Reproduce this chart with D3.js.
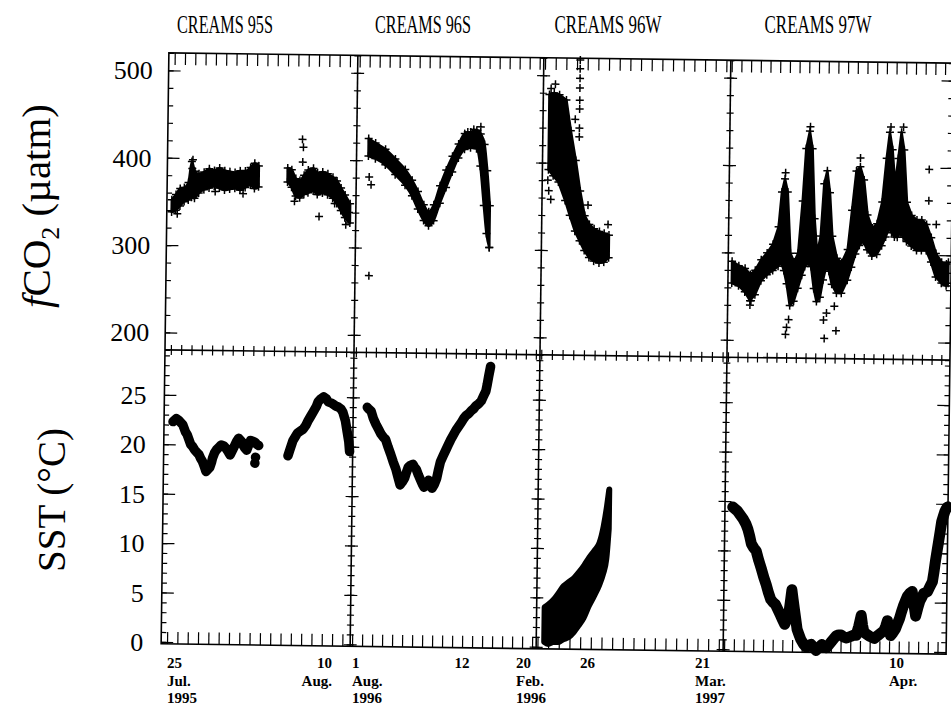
<!DOCTYPE html>
<html>
<head>
<meta charset="utf-8">
<script src="https://cdn.jsdelivr.net/npm/d3@7"></script>
<style>
  body { margin: 0; background: #fff; }
  svg { display: block; }
</style>
</head>
<body>
<svg id="chart" width="951" height="709"></svg>
<script>
// Cruise panels, left to right
const cruises = ["CREAMS 95S", "CREAMS 96S", "CREAMS 96W", "CREAMS 97W"];
// Reference date of each panel (data times are days after this date)
const refDates = ["1995-07-25", "1996-08-01", "1996-02-20", "1997-03-21"];
// Time window shown in each panel
const domainStart = ["1995-07-24T10:20Z", "1996-07-31T19:26Z", "1996-02-21T21:07Z", "1997-03-23T21:36Z"];
const domainEnd = ["1995-08-11T18:14Z", "1996-08-19T09:50Z", "1996-03-10T09:50Z", "1997-04-15T21:21Z"];
// Date tick labels per panel
const dateTicks = [
  [["1995-07-25", ["25", "Jul.", "1995"]], ["1995-08-10", ["10", "Aug."]]],
  [["1996-08-01", ["1", "Aug.", "1996"]], ["1996-08-12", ["12"]]],
  [["1996-02-20", ["20", "Feb.", "1996"]], ["1996-02-26", ["26"]]],
  [["1997-03-21", ["21", "Mar.", "1997"]], ["1997-04-10", ["10", "Apr."]]]
];
// Value axes
const fco2Domain = [180, 520];
const fco2Ticks = [200, 300, 400, 500];
const sstDomain = [-0.2, 29.55];
const sstTicks = [0, 5, 10, 15, 20, 25];

// fCO2 (uatm) spread of the underway readings: [days after reference date, lowest, highest]
const fco2_95S = [[-0.1,338,352],[0.3,340,358],[0.7,345,365],[1.1,350,366],[1.5,352,372],[1.8,355,396],[2.1,354,385],[2.5,360,382],[3.0,364,384],[3.5,366,388],[4.0,368,386],[4.5,366,389],[5.0,364,386],[5.5,365,385],[6.0,366,384],[6.5,364,386],[7.0,367,386],[7.5,370,390],[7.9,366,395],[8.3,368,392],[8.4,null,null],[11.1,374,390],[11.5,368,388],[11.9,358,378],[12.3,356,376],[12.7,360,382],[13.1,362,388],[13.6,364,390],[14.0,360,385],[14.5,362,386],[15.0,360,384],[15.5,356,380],[15.9,350,376],[16.3,342,368],[16.7,334,360],[17.2,328,350]];
const fco2_96S = [[1.0,405,425],[1.7,402,420],[2.7,395,413],[3.7,384,402],[4.7,372,390],[5.4,360,378],[6.0,345,365],[6.6,332,350],[7.1,326,342],[7.6,332,350],[8.2,352,372],[8.8,370,390],[9.4,388,406],[10.0,404,420],[10.6,414,432],[11.2,416,434],[11.8,415,436],[12.2,395,432],[12.6,350,420],[12.9,318,390],[13.2,302,350]];
const fco2_96W = [[2.45,392,478],[2.9,385,480],[3.4,378,478],[4.05,357,472],[4.5,340,437],[5.0,322,403],[5.45,311,368],[5.9,300,340],[6.35,292,330],[6.8,288,325],[7.3,286,322],[7.75,287,320],[8.2,292,318]];
const fco2_97W = [[3.3,265,290],[4.0,262,285],[4.65,255,282],[5.2,245,275],[5.7,252,280],[6.3,268,292],[6.9,275,300],[7.5,280,310],[8.05,285,330],[8.35,290,370],[8.65,280,385],[8.95,265,370],[9.3,240,300],[9.7,245,290],[10.1,260,300],[10.5,275,360],[10.8,285,420],[11.15,290,440],[11.45,285,420],[11.75,260,340],[12.05,245,300],[12.4,250,320],[12.7,270,380],[13.0,285,395],[13.3,280,370],[13.6,265,320],[14.1,255,295],[14.6,255,290],[15.2,270,305],[15.6,285,350],[16.0,300,395],[16.4,310,400],[16.8,315,385],[17.2,305,345],[17.7,298,330],[18.2,300,335],[18.7,310,360],[19.1,320,410],[19.4,330,440],[19.7,325,420],[20.0,320,380],[20.3,320,410],[20.6,325,440],[20.9,320,420],[21.25,315,360],[21.75,310,345],[22.3,305,340],[22.8,305,340],[23.3,305,335],[23.8,292,320],[24.3,275,302],[24.9,268,292],[25.4,265,290],[25.6,268,292]];
// Isolated fCO2 readings away from the main cloud
const fco2_95S_extra = [[0.45,336],[1.9,398],[1.85,388],[4.1,362],[6.8,360],[12.5,423],[12.6,414],[12.55,397],[14.2,335],[11.8,352],[15.7,350],[16.8,326],[17.1,340]];
const fco2_96S_extra = [[1.1,381],[1.3,372],[12.2,440],[11.5,437],[10.9,434],[13.2,302],[1.2,268]];
const fco2_96W_extra = [[5.3,518],[5.3,508],[5.3,497],[5.3,486],[5.3,472],[5.3,462],[5.3,440],[5.3,430],[2.6,485],[3.0,490],[2.4,380],[2.5,368],[2.7,358],[4.9,450],[6.2,352],[8.1,330]];
const fco2_97W_extra = [[5.3,245],[5.2,240],[8.9,207],[9.2,224],[9.0,215],[12.9,203],[12.8,224],[13.1,232],[14.1,212],[13.9,240],[23.5,398],[23.5,362],[8.7,392],[11.2,445],[16.4,410],[19.5,446],[20.8,446],[24.3,335]];

// Sea surface temperature (deg C) along the track: [days after reference date, value]; null marks a gap
const sst_95S = [[0.30,22.3],[0.62,22.6],[0.89,22.4],[1.25,22.0],[1.51,21.3],[1.69,21.0],[1.87,20.5],[2.05,20.0],[2.23,19.8],[2.41,19.5],[2.67,19.2],[2.85,19.0],[3.03,18.6],[3.21,18.3],[3.39,17.8],[3.56,17.3],[3.74,17.5],[3.92,17.7],[4.10,18.3],[4.19,18.7],[4.37,19.2],[4.54,19.5],[4.81,19.8],[4.99,20.0],[5.26,19.9],[5.44,19.7],[5.70,19.3],[5.88,19.0],[6.15,19.6],[6.33,20.0],[6.50,20.4],[6.68,20.7],[6.95,20.4],[7.13,20.0],[7.31,19.7],[7.48,19.5],[7.66,20.0],[7.84,20.5],[8.11,20.4],[8.29,20.3],[8.46,20.1],[8.64,20.0],[8.73,null],[11.49,19.0],[11.67,19.6],[11.94,20.5],[12.21,21.0],[12.38,21.3],[12.65,21.5],[12.92,21.7],[13.19,22.1],[13.36,22.5],[13.63,23.0],[13.90,23.5],[14.17,24.0],[14.35,24.5],[14.61,24.8],[14.88,25.0],[15.15,24.8],[15.33,24.5],[15.59,24.4],[15.77,24.3],[16.04,24.1],[16.31,24.0],[16.57,23.8],[16.75,23.5],[17.02,22.6],[17.20,21.5],[17.37,20.5],[17.46,19.5]];
const sst_96S = [[1.21,24.0],[1.39,23.8],[1.61,23.6],[1.83,22.9],[2.10,22.3],[2.37,21.8],[2.63,21.3],[2.86,21.0],[3.08,20.8],[3.35,20.0],[3.61,19.3],[3.88,18.5],[4.15,17.8],[4.37,17.0],[4.59,16.2],[4.81,16.5],[5.04,16.9],[5.22,17.5],[5.39,18.0],[5.62,18.2],[5.84,18.3],[6.02,18.0],[6.19,17.8],[6.42,17.2],[6.64,16.7],[6.82,16.3],[6.99,16.0],[7.22,16.4],[7.44,16.7],[7.62,16.2],[7.80,15.9],[8.02,16.3],[8.24,16.9],[8.42,17.8],[8.60,18.6],[8.86,19.2],[9.13,19.8],[9.35,20.3],[9.58,20.8],[9.84,21.3],[10.11,21.8],[10.38,22.2],[10.64,22.6],[10.87,23.0],[11.09,23.3],[11.36,23.5],[11.62,23.8],[11.85,24.0],[12.07,24.3],[12.34,24.5],[12.60,24.8],[12.82,25.3],[13.05,25.8],[13.18,26.5],[13.31,27.3],[13.49,28.3]];
const sst_97W = [[3.70,14.4],[4.19,14.0],[4.49,13.6],[4.79,13.2],[5.08,12.7],[5.28,12.2],[5.48,11.5],[5.67,10.7],[5.92,10.3],[6.17,10.0],[6.46,9.0],[6.76,8.1],[7.00,7.3],[7.25,6.6],[7.49,5.8],[7.74,5.1],[7.99,4.8],[8.23,4.6],[8.48,4.1],[8.73,3.6],[8.97,3.1],[9.22,2.6],[9.41,3.1],[9.61,3.6],[9.76,4.8],[9.91,6.1],[10.05,5.1],[10.20,4.1],[10.35,3.1],[10.50,2.1],[10.69,1.6],[10.89,1.1],[11.19,0.6],[11.48,0.3],[11.73,0.5],[11.97,0.6],[12.22,0.3],[12.47,0.0],[12.76,0.3],[13.06,0.6],[13.30,0.4],[13.55,0.3],[13.80,0.6],[14.04,0.9],[14.29,1.2],[14.53,1.5],[14.78,1.6],[15.03,1.6],[15.32,1.4],[15.62,1.3],[15.86,1.4],[16.11,1.5],[16.35,1.6],[16.60,1.6],[16.85,2.5],[17.09,3.6],[17.24,2.6],[17.39,1.9],[17.68,1.7],[17.98,1.5],[18.22,1.4],[18.47,1.3],[18.72,1.5],[18.96,1.7],[19.21,1.9],[19.46,2.1],[19.65,2.6],[19.80,3.1],[19.95,2.3],[20.14,1.6],[20.39,1.9],[20.64,2.3],[20.83,2.8],[21.03,3.3],[21.23,4.0],[21.42,4.6],[21.62,5.1],[21.82,5.6],[22.07,5.9],[22.31,6.1],[22.51,4.8],[22.70,3.6],[22.90,4.4],[23.10,5.1],[23.30,5.5],[23.49,5.9],[23.69,6.0],[23.89,6.1],[24.13,6.6],[24.38,7.1],[24.53,8.1],[24.67,9.2],[24.82,10.2],[24.97,11.2],[25.12,12.2],[25.26,13.2],[25.41,13.7],[25.56,14.2],[25.71,14.5],[25.86,14.7]];
// Winter 1996 SST spread: [days after reference date, lowest, highest]
const sst_96W = [[2.63,0.5,4.0],[3.0,0.3,4.3],[3.48,0.5,4.8],[3.95,0.5,5.5],[4.41,0.8,6.2],[4.88,1.0,6.6],[5.35,1.5,7.0],[5.82,2.2,7.6],[6.29,3.0,8.3],[6.76,4.2,9.1],[7.23,5.2,9.8],[7.7,6.3,10.6],[8.07,7.5,12.3],[8.35,9.0,14.3],[8.54,12.0,16.0]];
const sst_95S_extra = [[8.29,18.2],[8.35,18.8]];

const fco2Series = [fco2_95S, fco2_96S, fco2_96W, fco2_97W];
const fco2Extra = [fco2_95S_extra, fco2_96S_extra, fco2_96W_extra, fco2_97W_extra];
const sstTracks = [sst_95S, sst_96S, null, sst_97W];
const sstBands = [null, null, sst_96W, null];
const sstExtra = [sst_95S_extra, [], [], []];

// ---- layout ----
const svg = d3.select("#chart");
svg.append("rect").attr("width", 951).attr("height", 709).attr("fill", "#fff");

const edges = [165, 354, 540, 727, 950];
const yTop = 58, yMid = 355, yBot = 649;
const tilt = 0.75, pivot = [558, 352];
const rad = tilt * Math.PI / 180;
const turn = (x, y) => [
  pivot[0] + (x - pivot[0]) * Math.cos(rad) - (y - pivot[1]) * Math.sin(rad),
  pivot[1] + (x - pivot[0]) * Math.sin(rad) + (y - pivot[1]) * Math.cos(rad)
];
const serif = "'Liberation Serif', 'Times New Roman', serif";
const DAY = 864e5;

const yF = d3.scaleLinear().domain(fco2Domain).range([yMid, yTop]);
const yS = d3.scaleLinear().domain(sstDomain).range([yBot, yMid]);
const xs = cruises.map((c, i) =>
  d3.scaleUtc().domain([new Date(domainStart[i]), new Date(domainEnd[i])]).range([edges[i], edges[i + 1]]));
const at = (i, t) => new Date(+new Date(refDates[i] + "T00:00Z") + t * DAY);

const plot = svg.append("g").attr("transform", `rotate(${tilt},${pivot[0]},${pivot[1]})`);

function tickStyle(g) {
  g.select(".domain").remove();
  g.selectAll("text").remove();
  g.selectAll("line").attr("stroke", "#000").attr("stroke-width", 1.2);
}

// daily ticks along the top, middle and bottom lines
xs.forEach(x => {
  const [d0, d1] = x.domain();
  const days = d3.utcDay.range(d3.utcDay.ceil(d0), d1);
  plot.append("g").attr("transform", `translate(0,${yTop})`)
    .call(d3.axisBottom(x).tickValues(days).tickSize(12)).call(tickStyle);
  plot.append("g").attr("transform", `translate(0,${yBot})`)
    .call(d3.axisTop(x).tickValues(days).tickSize(12)).call(tickStyle);
  plot.append("g").attr("transform", `translate(0,${yMid})`)
    .call(d3.axisTop(x).tickValues(days).tickSize(5)).call(tickStyle);
  plot.append("g").attr("transform", `translate(0,${yMid})`)
    .call(d3.axisBottom(x).tickValues(days).tickSize(5)).call(tickStyle);
});

// value ticks on the outer edges and across the panel dividers
const rows = [
  { y: yF, minor: d3.range(fco2Domain[0], fco2Domain[1] + 1, 20), major: fco2Ticks },
  { y: yS, minor: d3.range(0, 30, 1), major: sstTicks }
];
edges.forEach((ex, k) => {
  rows.forEach(r => {
    [[r.minor, 5, 3.5], [r.major, 12, 6.5]].forEach(([vals, edgeLen, crossLen]) => {
      const g = () => plot.append("g").attr("transform", `translate(${ex},0)`);
      if (k === 0) {
        g().call(d3.axisRight(r.y).tickValues(vals).tickSize(edgeLen)).call(tickStyle);
      } else if (k === edges.length - 1) {
        g().call(d3.axisLeft(r.y).tickValues(vals).tickSize(edgeLen)).call(tickStyle);
      } else {
        g().call(d3.axisRight(r.y).tickValues(vals).tickSize(crossLen)).call(tickStyle);
        g().call(d3.axisLeft(r.y).tickValues(vals).tickSize(crossLen)).call(tickStyle);
      }
    });
  });
});

// panel frames
plot.append("rect")
  .attr("x", edges[0]).attr("y", yTop)
  .attr("width", edges[4] - edges[0]).attr("height", yBot - yTop)
  .attr("fill", "none").attr("stroke", "#000").attr("stroke-width", 1.6);
plot.append("line").attr("x1", edges[0]).attr("x2", edges[4]).attr("y1", yMid).attr("y2", yMid)
  .attr("stroke", "#000").attr("stroke-width", 1.6);
edges.slice(1, 4).forEach(ex => {
  plot.append("line").attr("x1", ex).attr("x2", ex).attr("y1", yTop).attr("y2", yBot)
    .attr("stroke", "#000").attr("stroke-width", 1.6);
});

// data
const cross = "M-4,0H4M0,-4V4";
function crosses(g, pts, x, i, y) {
  g.append("g").selectAll("path").data(pts).join("path")
    .attr("transform", d => `translate(${x(at(i, d[0]))},${y(d[1])})`)
    .attr("d", cross).attr("stroke", "#000").attr("stroke-width", 1.5).attr("fill", "none");
}
const bandCurve = [d3.curveMonotoneX, d3.curveMonotoneX, d3.curveLinear, d3.curveLinear];
xs.forEach((x, i) => {
  // fCO2 cloud: filled spread with crosses on its edges
  const band = fco2Series[i];
  const areaF = d3.area().defined(d => d[1] != null)
    .x(d => x(at(i, d[0]))).y0(d => yF(d[1])).y1(d => yF(d[2]))
    .curve(bandCurve[i]);
  plot.append("path").attr("d", areaF(band))
    .attr("fill", "#000").attr("stroke", "#000").attr("stroke-width", 2.5)
    .attr("stroke-linejoin", "round");
  const edgePts = band.filter(d => d[1] != null).flatMap(d => [[d[0], d[1]], [d[0], d[2]]]);
  crosses(plot, edgePts.concat(fco2Extra[i]), x, i, yF);

  // SST
  if (sstTracks[i]) {
    const lineS = d3.line().defined(d => d[1] != null)
      .x(d => x(at(i, d[0]))).y(d => yS(d[1]));
    plot.append("path").attr("d", lineS(sstTracks[i]))
      .attr("fill", "none").attr("stroke", "#000").attr("stroke-width", i === 3 ? 11 : 9.5)
      .attr("stroke-linejoin", "round").attr("stroke-linecap", "round");
  }
  if (sstBands[i]) {
    const areaS = d3.area()
      .x(d => x(at(i, d[0]))).y0(d => yS(d[1])).y1(d => yS(d[2]))
      .curve(d3.curveMonotoneX);
    plot.append("path").attr("d", areaS(sstBands[i]))
      .attr("fill", "#000").attr("stroke", "#000").attr("stroke-width", 6)
      .attr("stroke-linejoin", "round");
  }
  plot.append("g").selectAll("circle").data(sstExtra[i]).join("circle")
    .attr("cx", d => x(at(i, d[0]))).attr("cy", d => yS(d[1])).attr("r", 4.8).attr("fill", "#000");
});

// value labels beside the left edge
fco2Ticks.forEach(v => {
  const [px, py] = turn(edges[0], yF(v));
  svg.append("text").attr("x", px - 16).attr("y", py).attr("dy", "0.35em")
    .attr("text-anchor", "end").style("font-family", serif).attr("font-size", 26).text(v);
});
sstTicks.forEach(v => {
  const [px, py] = turn(edges[0], yS(v));
  svg.append("text").attr("x", px - 18).attr("y", py).attr("dy", "0.35em")
    .attr("text-anchor", "end").style("font-family", serif).attr("font-size", 26).text(v);
});

// date labels under the bottom edge
const labelAnchor = [["start", "end"], ["start", "middle"], ["start", "start"], ["start", "start"]];
const lineY = [668, 686, 703];
dateTicks.forEach((list, i) => {
  list.forEach(([date, lines], j) => {
    const [px] = turn(xs[i](new Date(date + "T00:00Z")), yBot);
    const t = svg.append("text").attr("text-anchor", labelAnchor[i][j])
      .style("font-family", serif).attr("font-weight", "bold").attr("font-size", 15);
    lines.forEach((s, k) => t.append("tspan").attr("x", px).attr("y", lineY[k]).text(s));
  });
});

// cruise titles
const titleX = [225, 423, 608, 818];
const titleW = [96, 96, 107, 107];
cruises.forEach((c, i) => {
  svg.append("text").attr("x", titleX[i] - titleW[i] / 2).attr("y", 33)
    .style("font-family", serif).attr("font-size", 25)
    .attr("textLength", titleW[i]).attr("lengthAdjust", "spacingAndGlyphs").text(c);
});

// axis titles
const fTitle = svg.append("text").attr("transform", "translate(50,206) rotate(-90)")
  .attr("text-anchor", "middle").style("font-family", serif).attr("font-size", 41);
fTitle.append("tspan").attr("font-style", "italic").text("f");
fTitle.append("tspan").text("CO");
fTitle.append("tspan").attr("font-size", 26).attr("dy", 9).text("2");
fTitle.append("tspan").attr("dy", -9).text(" (\u00B5atm)");

svg.append("text").attr("transform", "translate(65,500) rotate(-90)")
  .attr("text-anchor", "middle").style("font-family", serif).attr("font-size", 39)
  .text("SST (\u00B0C)");
</script>
</body>
</html>
